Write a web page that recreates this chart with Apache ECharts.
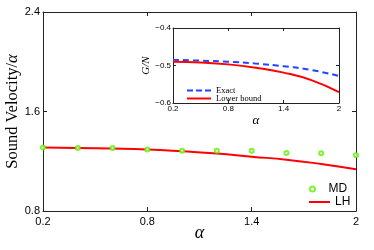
<!DOCTYPE html>
<html><head><meta charset="utf-8">
<script src="https://cdn.jsdelivr.net/npm/echarts@6/dist/echarts.min.js"></script>
<style>html,body{margin:0;padding:0;background:#fff}#c{width:374px;height:250px}</style>
</head><body><div id="c"></div>
<script>
// Main plot data
const alphaMain = [0.2, 0.4, 0.6, 0.8, 1.0, 1.2, 1.4, 1.6, 1.8, 2.0];
const mdValues = [1.31, 1.306, 1.306, 1.294, 1.285, 1.285, 1.285, 1.266, 1.265, 1.248];
const lhValues = [1.31, 1.307, 1.302, 1.294, 1.280, 1.263, 1.237, 1.213, 1.178, 1.135];
const mainXTicks = [0.2, 0.8, 1.4, 2];
const mainYTicks = [0.8, 1.6, 2.4];
// Inset data
const alphaInset = [0.2, 0.5, 0.8, 1.1, 1.4, 1.7, 2.0];
const exactValues = [-0.485, -0.487, -0.490, -0.495, -0.502, -0.512, -0.528];
const lowerValues = [-0.490, -0.492, -0.497, -0.506, -0.519, -0.539, -0.571];
const insetYTicks = [-0.6, -0.5, -0.4];

const pair = (xs, ys) => xs.map((x, i) => [x, ys[i]]);
const sans = 'Liberation Sans';
const serif = 'Liberation Serif';
const axisCol = '#222';
const green = '#5cf000';

function xAx(grid, pos, ticks, showLabel, fs, margin, name, nameOpt) {
  return Object.assign({
    type: 'value', gridIndex: grid, position: pos,
    min: ticks[0], max: ticks[ticks.length - 1], interval: ticks[1] - ticks[0],
    splitLine: { show: false },
    axisLine: { show: true, onZero: false, lineStyle: { color: axisCol, width: 1 } },
    axisTick: { show: true, inside: true, length: grid === 0 ? 4 : 3, lineStyle: { color: axisCol } },
    axisLabel: { show: showLabel, color: '#000', fontFamily: sans, fontSize: fs, margin: margin,
      formatter: v => String(Math.round(v * 10) / 10) }
  }, nameOpt || {});
}
function yAx(grid, pos, ticks, showLabel, fs, margin, fmt, nameOpt) {
  return Object.assign({
    type: 'value', gridIndex: grid, position: pos,
    min: ticks[0], max: ticks[ticks.length - 1], interval: Math.round((ticks[1] - ticks[0]) * 100) / 100,
    splitLine: { show: false },
    axisLine: { show: true, onZero: false, lineStyle: { color: axisCol, width: 1 } },
    axisTick: { show: true, inside: true, length: grid === 0 ? 4 : 3, lineStyle: { color: axisCol } },
    axisLabel: { show: showLabel, color: '#000', fontFamily: sans, fontSize: fs, margin: margin, formatter: fmt }
  }, nameOpt || {});
}
function leg(name, left, top, icon, w, h, font, fs, z) {
  return {
    data: [{ name: name, icon: icon }], left: left, top: top, z: z || 10,
    itemWidth: w, itemHeight: h, symbolKeepAspect: true, selectedMode: false,
    textStyle: { fontFamily: font, fontSize: fs, color: '#000' }
  };
}
const dashIcon = 'path://M0,0H6V2H0ZM9,0H15V2H9ZM18,0H24V2H18Z';

const chart = echarts.init(document.getElementById('c'), null, { renderer: 'canvas' });
chart.setOption({
  animation: false,
  backgroundColor: '#fff',
  grid: [
    { left: 43, right: 18, top: 12, bottom: 39, containLabel: false, outerBoundsMode: 'none' },
    { left: 173, right: 35, top: 28, bottom: 147, containLabel: false, outerBoundsMode: 'none',
      show: true, backgroundColor: '#fff', borderWidth: 0, z: 5 }
  ],
  xAxis: [
    xAx(0, 'bottom', mainXTicks, true, 11, 5, null, {
      name: 'α', nameLocation: 'middle', nameGap: 13, nameMoveOverlap: false,
      nameTextStyle: { fontFamily: serif, fontStyle: 'italic', fontSize: 18, color: '#000' }
    }),
    xAx(0, 'top', mainXTicks, false, 11, 3),
    xAx(1, 'bottom', mainXTicks, true, 8, 2, null, {
      name: 'α', nameLocation: 'middle', nameGap: 10, z: 6,
      nameTextStyle: { fontFamily: serif, fontStyle: 'italic', fontSize: 13, color: '#000' }
    }),
    xAx(1, 'top', mainXTicks, false, 8, 2, null, { z: 6 })
  ],
  yAxis: [
    yAx(0, 'left', mainYTicks, true, 11, 3, v => v.toFixed(1), {
      name: '{a|Sound Velocity/}{b|α}', nameLocation: 'middle', nameGap: 22, nameMoveOverlap: false,
      nameTextStyle: { color: '#000', rich: {
        a: { fontFamily: serif, fontSize: 16.5, color: '#000' },
        b: { fontFamily: serif, fontSize: 16.5, fontStyle: 'italic', color: '#000' } } }
    }),
    yAx(0, 'right', mainYTicks, false, 11, 3),
    yAx(1, 'left', insetYTicks, true, 8, 2, v => '−' + Math.abs(v).toFixed(1), {
      name: 'G/N', nameLocation: 'middle', nameGap: 20, z: 6,
      nameTextStyle: { fontFamily: serif, fontStyle: 'italic', fontSize: 11, color: '#000' }
    }),
    yAx(1, 'right', insetYTicks, false, 8, 2, null, { z: 6 })
  ],
  legend: [
    leg('MD', 304, 178, 'emptyCircle', 22, 5, sans, 12),
    leg('LH', 304, 191, 'rect', 21, 2, sans, 12),
    leg('Exact', 182, 81, dashIcon, 24, 2, serif, 8.5),
    leg('Lower bound', 182, 89, 'rect', 24, 2, serif, 8.5)
  ],
  series: [
    {
      name: 'LH', type: 'line', xAxisIndex: 0, yAxisIndex: 0, smooth: true, symbol: 'none',
      lineStyle: { color: '#ff0000', width: 2 }, itemStyle: { color: '#ff0000' },
      data: pair(alphaMain, lhValues), z: 2
    },
    {
      name: 'MD', type: 'scatter', xAxisIndex: 0, yAxisIndex: 0, symbol: 'emptyCircle', symbolSize: 4,
      itemStyle: { color: green, borderColor: green, borderWidth: 1.5 },
      data: pair(alphaMain, mdValues), clip: false, z: 3
    },
    {
      name: 'Exact', type: 'line', xAxisIndex: 2, yAxisIndex: 2, smooth: true, symbol: 'none',
      lineStyle: { color: '#2244ff', width: 2, type: [6, 4] }, itemStyle: { color: '#2244ff' },
      data: pair(alphaInset, exactValues), z: 8
    },
    {
      name: 'Lower bound', type: 'line', xAxisIndex: 2, yAxisIndex: 2, smooth: true, symbol: 'none',
      lineStyle: { color: '#ff0000', width: 2 }, itemStyle: { color: '#ff0000' },
      data: pair(alphaInset, lowerValues), z: 8
    }
  ]
});
</script></body></html>
